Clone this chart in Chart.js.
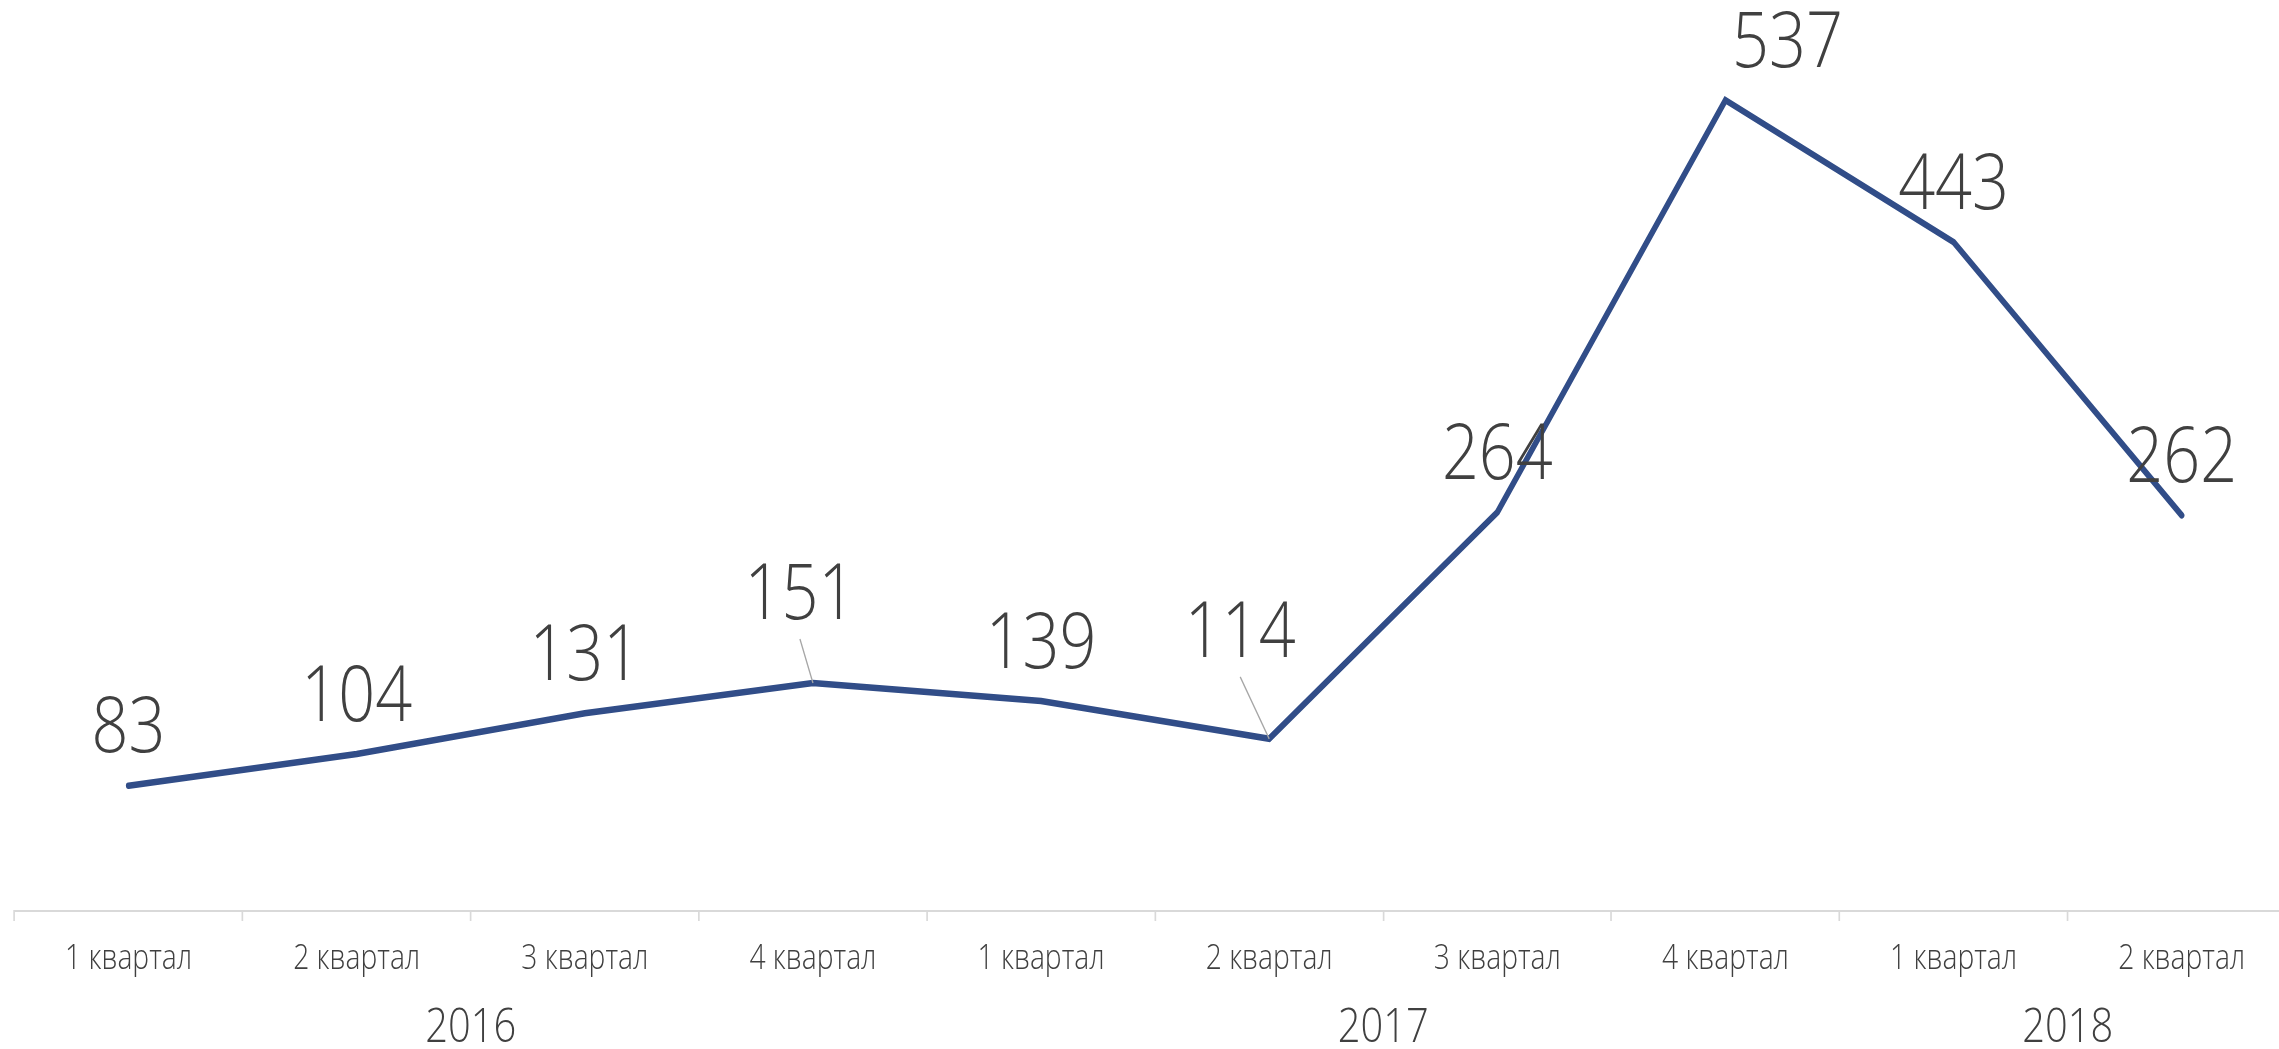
<!DOCTYPE html>
<html>
<head>
<meta charset="utf-8">
<script src="https://cdn.jsdelivr.net/npm/chart.js@4.4.1/dist/chart.umd.min.js"></script>
<style>
  html, body { margin: 0; padding: 0; background: #fff; overflow: hidden; width: 2279px; height: 1049px; }
  canvas { display: block; }
</style>
</head>
<body>
<canvas id="chart" width="2766" height="1059"></canvas>
<script>
// data
const quarters = ['1 квартал', '2 квартал', '3 квартал', '4 квартал', '1 квартал', '2 квартал', '3 квартал', '4 квартал', '1 квартал', '2 квартал']
const values = [83, 104, 131, 151, 139, 114, 264, 537, 443, 262]
const years = ['2016', '2017', '2018']
const quartersPerYear = [4, 4, 2]

// year labels sit in the middle of their group of quarters
const yearCenters = []
let start = 0
quartersPerYear.forEach(n => {
    yearCenters.push(start + n / 2)
    start += n
})

// the reference is squeezed sideways, so draw everything narrower
const SX = 0.83
const TEXT = '#404040'

Chart.defaults.font.family = "'Open Sans', 'Noto Sans', sans-serif"
Chart.defaults.font.weight = '300'
Chart.defaults.color = TEXT

const squeeze = {
    id: 'squeeze',
    beforeDraw(chart) {
        chart.ctx.save()
        chart.ctx.scale(SX, 1)
    },
    afterDraw(chart) {
        chart.ctx.restore()
    }
}

// value labels above the points, a few nudged away with a leader line
const valueLabels = {
    id: 'valueLabels',
    afterDatasetsDraw(chart, args, opts) {
        const ctx = chart.ctx
        const points = chart.getDatasetMeta(0).data
        const size = opts.size
        ctx.save()
        ctx.font = `300 ${size}px 'Open Sans', 'Noto Sans', sans-serif`
        ctx.textAlign = 'center'
        ctx.textBaseline = 'alphabetic'
        points.forEach((pt, i) => {
            const nudge = opts.nudges[i] || { dx: 0, rise: opts.rise }
            const cx = pt.x + nudge.dx / SX
            const cy = pt.y - nudge.rise
            if (nudge.leader) {
                ctx.strokeStyle = '#a6a6a6'
                ctx.lineWidth = 1.6
                ctx.beginPath()
                ctx.moveTo(cx, cy + 48)
                ctx.lineTo(pt.x, pt.y)
                ctx.stroke()
            }
            ctx.fillStyle = TEXT
            ctx.fillText(String(values[i]), cx, cy + size * 0.357)
        })
        ctx.restore()
    }
}

const ctx = document.getElementById('chart').getContext('2d')

new Chart(ctx, {
    type: 'line',
    data: {
        labels: quarters,
        datasets: [{
            data: values,
            borderColor: '#314d88',
            borderWidth: 6.5,
            borderCapStyle: 'round',
            borderJoinStyle: 'miter',
            tension: 0,
            pointRadius: 0,
            fill: false,
            xAxisID: 'x',
            yAxisID: 'y'
        }]
    },
    options: {
        responsive: false,
        animation: false,
        devicePixelRatio: 1,
        layout: { padding: { left: 14.5 / SX, right: 0, top: 5, bottom: 0 } },
        plugins: {
            legend: { display: false },
            tooltip: { enabled: false },
            valueLabels: {
                size: 78,
                rise: 61,
                nudges: {
                    3: { dx: -13, rise: 92, leader: true },
                    5: { dx: -29, rise: 110, leader: true },
                    7: { dx: 62, rise: 61 }
                }
            }
        },
        scales: {
            x: {
                type: 'category',
                position: 'bottom',
                weight: 0,
                offset: true,
                grid: {
                    display: true,
                    offset: true,
                    drawOnChartArea: false,
                    drawTicks: true,
                    tickLength: 10,
                    color: '#d9d9d9',
                    lineWidth: 2
                },
                border: { display: true, color: '#d9d9d9', width: 2 },
                ticks: {
                    autoSkip: false,
                    maxRotation: 0,
                    padding: 19,
                    color: TEXT,
                    font: { size: 34, lineHeight: 1.13 }
                }
            },
            years: {
                type: 'linear',
                position: 'bottom',
                weight: 1,
                min: 0,
                max: quarters.length,
                grid: { display: false, drawTicks: false },
                border: { display: false },
                afterBuildTicks: scale => {
                    scale.ticks = yearCenters.map(v => ({ value: v }))
                },
                ticks: {
                    autoSkip: false,
                    maxRotation: 0,
                    padding: 2,
                    color: TEXT,
                    font: { size: 48, lineHeight: 1.2 },
                    callback: v => years[yearCenters.indexOf(v)]
                }
            },
            y: {
                display: false,
                min: 0,
                max: 600
            }
        }
    },
    plugins: [squeeze, valueLabels]
})
</script>
</body>
</html>
